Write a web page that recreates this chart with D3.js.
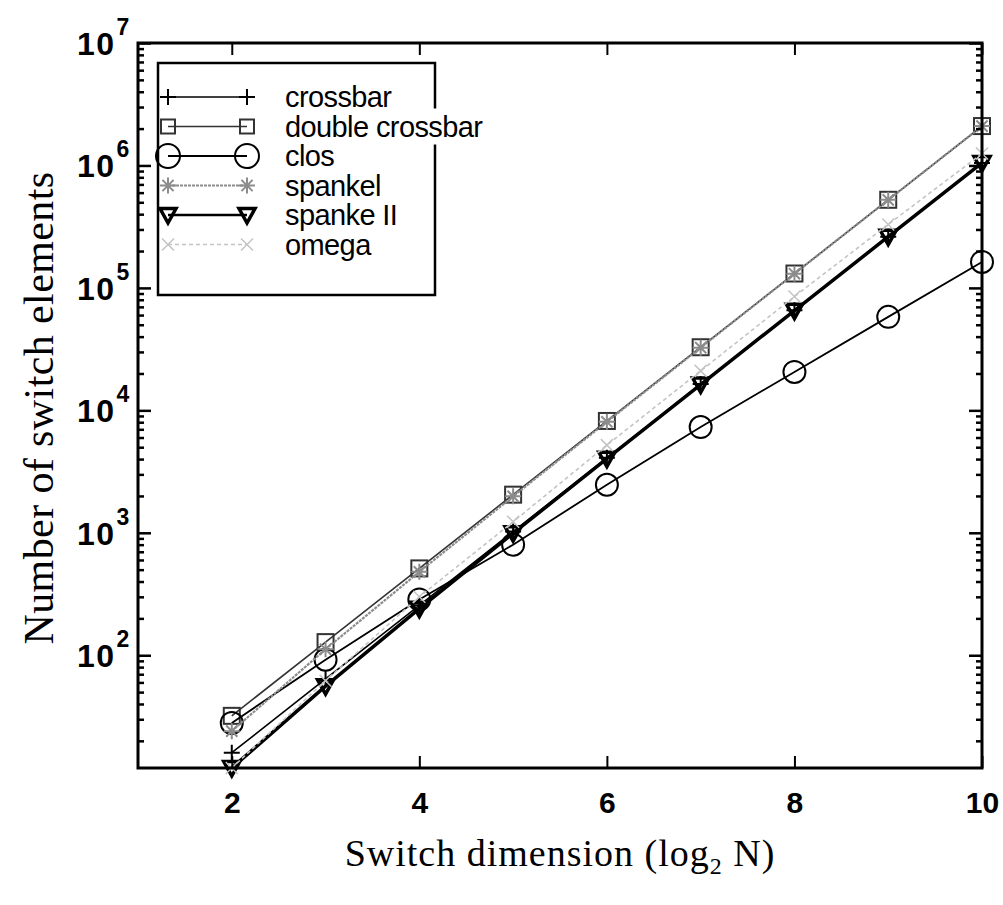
<!DOCTYPE html>
<html lang="en">
<head>
<meta charset="utf-8">
<title>Number of switch elements</title>
<script src="https://cdn.jsdelivr.net/npm/d3@7"></script>
<style>
  body { margin: 0; background: #fff; }
  .tick text, .ylab { font-family: "Liberation Sans", Arial, sans-serif; font-weight: bold; }
  .title { font-family: "Liberation Serif", "Times New Roman", serif; }
  .leg { font-family: "Liberation Sans", Arial, sans-serif; font-size: 29px; letter-spacing: -0.6px; }
</style>
</head>
<body>
<script>

// switch dimension log2 N
var dims = [2, 3, 4, 5, 6, 7, 8, 9, 10];

// number of switch elements
var crossbar       = [16, 64, 256, 1024, 4096, 16384, 65536, 262144, 1048576];
var doubleCrossbar = [32, 128, 512, 2048, 8192, 32768, 131072, 524288, 2097152];
var clos           = [28, 92, 285, 800, 2470, 7300, 20600, 58000, 163000];
var spankel        = [24, 112, 480, 1984, 8064, 32512, 130560, 523776, 2095104];
var spankeII       = [12, 56, 240, 992, 4032, 16256, 65280, 261888, 1047552];
var omega          = [12, 62, 300, 1230, 5200, 21000, 85000, 330000, 1250000];

var seriesNames = ["crossbar", "double crossbar", "clos", "spankel", "spanke II", "omega"];
var xTicks = [2, 4, 6, 8, 10];
var yTicks = [1e2, 1e3, 1e4, 1e5, 1e6, 1e7];

var W = 1003, H = 905;
var svg = d3.select("body").append("svg")
    .attr("width", W)
    .attr("height", H);

var x = d3.scaleLinear().domain([1, 10]).range([138, 982]);
var y = d3.scaleLog().domain([12, 1e7]).range([768, 43]);

// minor ticks for the log axis
var minor = [];
for (var e = 1; e < 7; e++) {
  for (var m = 2; m < 10; m++) {
    var v = m * Math.pow(10, e);
    if (v >= 12 && v <= 1e7) minor.push(v);
  }
}

// marker shapes
function marker(g, type, size) {
  var s = size;
  if (type == "plus") {
    g.append("path").attr("d", "M" + (-s) + ",0H" + s + "M0," + (-s) + "V" + s)
      .attr("stroke", "#000").attr("stroke-width", 2).attr("fill", "none");
  } else if (type == "square") {
    g.append("rect").attr("x", -s).attr("y", -s).attr("width", 2 * s).attr("height", 2 * s)
      .attr("stroke", "#333").attr("stroke-width", 2).attr("fill", "none");
  } else if (type == "circle") {
    g.append("circle").attr("r", s)
      .attr("stroke", "#000").attr("stroke-width", 2).attr("fill", "none");
  } else if (type == "star") {
    var d = s * 0.7;
    g.append("path").attr("d", "M" + (-s) + ",0H" + s + "M0," + (-s) + "V" + s +
        "M" + (-d) + "," + (-d) + "L" + d + "," + d + "M" + (-d) + "," + d + "L" + d + "," + (-d))
      .attr("stroke", "#8c8c8c").attr("stroke-width", 2).attr("fill", "none");
  } else if (type == "tri") {
    g.append("path").attr("d", "M" + (-s) + "," + (-s * 0.8) + "L" + s + "," + (-s * 0.8) + "L0," + s + "Z")
      .attr("stroke", "#000").attr("stroke-width", 3.5).attr("stroke-linejoin", "miter").attr("fill", "none");
  } else if (type == "x") {
    g.append("path").attr("d", "M" + (-s) + "," + (-s) + "L" + s + "," + s + "M" + (-s) + "," + s + "L" + s + "," + (-s))
      .attr("stroke", "#c4c4c4").attr("stroke-width", 1.5).attr("fill", "none");
  }
}

var styles = [
  {values: crossbar,       color: "#000",    width: 1.6, dash: null,  mark: "plus",   size: 8,  legSize: 8},
  {values: doubleCrossbar, color: "#333",    width: 1.6, dash: null,  mark: "square", size: 8,  legSize: 7},
  {values: clos,           color: "#000",    width: 1.8, dash: null,  mark: "circle", size: 11, legSize: 12},
  {values: spankel,        color: "#8c8c8c", width: 2.2, dash: "3,1", mark: "star",   size: 8,  legSize: 8},
  {values: spankeII,       color: "#000",    width: 3.5, dash: null,  mark: "tri",    size: 8,  legSize: 8},
  {values: omega,          color: "#c4c4c4", width: 1.6, dash: "4,3", mark: "x",      size: 6,  legSize: 6}
];

var line = d3.line()
    .x(function(d) { return x(d[0]); })
    .y(function(d) { return y(d[1]); });

// series
styles.forEach(function(s) {
  var pts = dims.map(function(d, i) { return [d, s.values[i]]; });
  svg.append("path")
     .datum(pts)
     .attr("d", line)
     .attr("fill", "none")
     .attr("stroke", s.color)
     .attr("stroke-width", s.width)
     .attr("stroke-dasharray", s.dash);
  pts.forEach(function(p) {
    var g = svg.append("g").attr("transform", "translate(" + x(p[0]) + "," + y(p[1]) + ")");
    marker(g, s.mark, s.size);
  });
});

// axes box with inward ticks
svg.append("g")
   .attr("transform", "translate(0,768)")
   .call(d3.axisBottom(x).tickValues(xTicks).tickSize(-12).tickPadding(45).tickFormat(d3.format("d")))
   .call(function(g) {
     g.select(".domain").remove();
     g.selectAll("line").attr("stroke-width", 2);
     g.selectAll("text").attr("font-size", 30).attr("dy", 0);
   });

svg.append("g")
   .attr("transform", "translate(0,43)")
   .call(d3.axisTop(x).tickValues(xTicks).tickSize(-12).tickFormat(""))
   .call(function(g) {
     g.select(".domain").remove();
     g.selectAll("line").attr("stroke-width", 2);
   });

[[138, -1], [982, 1]].forEach(function(side) {
  var ax = side[1] < 0 ? d3.axisLeft(y) : d3.axisRight(y);
  svg.append("g")
     .attr("transform", "translate(" + side[0] + ",0)")
     .call(ax.tickValues(yTicks).tickSize(-13).tickFormat(""))
     .call(function(g) {
       g.select(".domain").remove();
       g.selectAll("line").attr("stroke-width", 2.5);
     });
  var ax2 = side[1] < 0 ? d3.axisLeft(y) : d3.axisRight(y);
  svg.append("g")
     .attr("transform", "translate(" + side[0] + ",0)")
     .call(ax2.tickValues(minor).tickSize(-6).tickFormat(""))
     .call(function(g) {
       g.select(".domain").remove();
       g.selectAll("line").attr("stroke-width", 2.5);
     });
});

// y tick labels 10^k
yTicks.forEach(function(t) {
  var k = Math.round(Math.log10(t));
  var txt = svg.append("text")
      .attr("class", "ylab")
      .attr("x", 77)
      .attr("y", y(t) + 12)
      .attr("font-size", 32)
      .attr("letter-spacing", 1.5);
  txt.append("tspan").text("10");
  txt.append("tspan").attr("dx", 1).attr("dy", -20).attr("font-size", 23).attr("letter-spacing", 0).text(k);
});

svg.append("rect")
   .attr("x", 138).attr("y", 43)
   .attr("width", 982 - 138).attr("height", 768 - 43)
   .attr("fill", "none")
   .attr("stroke", "#000")
   .attr("stroke-width", 3);

// legend
var leg = svg.append("g");
leg.append("rect")
   .attr("x", 158).attr("y", 63)
   .attr("width", 277).attr("height", 232)
   .attr("fill", "#fff")
   .attr("stroke", "#000")
   .attr("stroke-width", 2.5);

var rowY = function(i) { return 97 + i * 29.5; };
var bgLayer = leg.append("g");
var itemLayer = leg.append("g");

styles.forEach(function(s, i) {
  var ly = rowY(i);
  itemLayer.append("line")
     .attr("x1", 168).attr("x2", 247)
     .attr("y1", ly).attr("y2", ly)
     .attr("stroke", s.color)
     .attr("stroke-width", Math.min(s.width, 2.5))
     .attr("stroke-dasharray", s.dash);
  [168, 247].forEach(function(mx) {
    var g = itemLayer.append("g").attr("transform", "translate(" + mx + "," + ly + ")");
    marker(g, s.mark, s.legSize);
  });
  var t = itemLayer.append("text")
     .attr("class", "leg")
     .attr("x", 285)
     .attr("y", ly + 10)
     .text(seriesNames[i]);
  // white box behind the label, it hides the legend border where the text runs over it
  var bb = t.node().getBBox();
  bgLayer.append("rect")
     .attr("fill", "#fff")
     .attr("x", bb.x - 3).attr("y", bb.y - 2)
     .attr("width", bb.width + 6).attr("height", bb.height + 4);
});

// titles
var xt = svg.append("text")
   .attr("class", "title")
   .attr("x", 560)
   .attr("y", 866)
   .attr("text-anchor", "middle")
   .attr("font-size", 38)
   .attr("letter-spacing", 1);
xt.append("tspan").text("Switch dimension (log");
xt.append("tspan").attr("font-size", 24).attr("dy", 8).text("2");
xt.append("tspan").attr("dy", -8).text(" N)");

svg.append("text")
   .attr("class", "title")
   .attr("transform", "translate(53,408) rotate(-90)")
   .attr("text-anchor", "middle")
   .attr("font-size", 42)
   .attr("letter-spacing", 0.4)
   .text("Number of switch elements");

</script>
</body>
</html>
